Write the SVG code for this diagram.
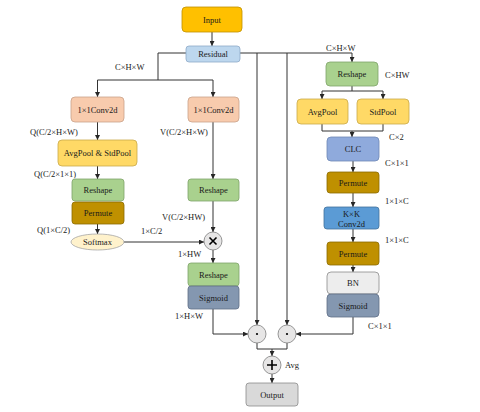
<svg xmlns="http://www.w3.org/2000/svg" width="480" height="412" viewBox="0 0 480 412">
<defs>
<marker id="ah" viewBox="0 0 6 6" refX="6" refY="3" markerWidth="5" markerHeight="5" orient="auto" markerUnits="userSpaceOnUse">
<path d="M0,0 L6,3 L0,6 Z" fill="#262626"/>
</marker>
<style>
.b{stroke-width:0.8}
text{font-family:"Liberation Serif","Times New Roman",serif;font-size:8.5px;fill:#1a1a1a}
.c{text-anchor:middle;dominant-baseline:central}
.l{dominant-baseline:central}
.e{fill:none;stroke:#333;stroke-width:1}
.a{marker-end:url(#ah)}
.op{fill:#E7E6E6;stroke:#7f7f7f;stroke-width:0.8}
</style>
</defs>
<rect width="480" height="412" fill="#fff"/>

<g id="edges">
<path class="e a" d="M212,32 V46"/>
<path class="e" d="M186,53 H158 V80 M97.5,80 H213"/>
<path class="e a" d="M97.5,80 V97"/>
<path class="e a" d="M213,80 V97"/>
<path class="e" d="M240,53 H352"/>
<path class="e a" d="M352,53 V62"/>
<path class="e a" d="M257,53 V325"/>
<path class="e a" d="M287,53 V325"/>
<path class="e a" d="M97.5,122 V140"/>
<path class="e a" d="M97.5,166 V179"/>
<path class="e a" d="M97.5,224 V234"/>
<path class="e a" d="M124,242 H204"/>
<path class="e a" d="M213,122 V179"/>
<path class="e a" d="M213,201 V232"/>
<path class="e a" d="M213,250 V263"/>
<path class="e a" d="M213,309 V334 H248"/>
<path class="e a" d="M353,317 V334 H296"/>
<path class="e" d="M257,343 V349 H287 V343"/>
<path class="e a" d="M272,349 V356"/>
<path class="e a" d="M272,374 V383"/>
<path class="e" d="M352,86 V91 M322,91 H383"/>
<path class="e a" d="M322,91 V99"/>
<path class="e a" d="M383,91 V99"/>
<path class="e" d="M322,124 V131 H383 V124"/>
<path class="e a" d="M352,131 V137"/>
<path class="e a" d="M353,161 V172"/>
<path class="e a" d="M353,193 V207"/>
<path class="e a" d="M353,229 V242"/>
<path class="e a" d="M353,265 V272"/>
</g>

<g id="input"><rect x="182" y="7" width="60" height="25" rx="4" fill="#FFC000" stroke="#BF9000" class="b"/><text class="c" x="212" y="19.5">Input</text></g>
<g id="residual"><rect x="186" y="46" width="54" height="16" rx="3" fill="#BDD7EE" stroke="#8EA9C8" class="b"/><text class="c" x="213" y="54">Residual</text></g>

<g id="conv-q"><rect x="71" y="97" width="53" height="25" rx="4" fill="#F8CBAD" stroke="#C9A28A" class="b"/><text class="c" x="97.5" y="109.5">1×1Conv2d</text></g>
<g id="conv-v"><rect x="188" y="97" width="51" height="25" rx="4" fill="#F8CBAD" stroke="#C9A28A" class="b"/><text class="c" x="213.5" y="109.5">1×1Conv2d</text></g>
<g id="avgstd"><rect x="58" y="140" width="79" height="26" rx="4" fill="#FFD966" stroke="#C9A94A" class="b"/><text class="c" x="97.5" y="153">AvgPool &amp; StdPool</text></g>
<g id="reshape-q"><rect x="72" y="179" width="52" height="22" rx="3" fill="#A9D18E" stroke="#7FA36A" class="b"/><text class="c" x="98" y="190">Reshape</text></g>
<g id="permute-q"><rect x="72" y="202" width="52" height="22" rx="3" fill="#BF9000" stroke="#8C6A00" class="b"/><text class="c" x="98" y="213">Permute</text></g>
<g id="softmax"><ellipse cx="97.5" cy="242" rx="26.5" ry="8" fill="#FFF2CC" stroke="#A6A6A6" class="b"/><text class="c" x="97.5" y="242">Softmax</text></g>
<g id="reshape-v"><rect x="188" y="179" width="51" height="22" rx="3" fill="#A9D18E" stroke="#7FA36A" class="b"/><text class="c" x="213.5" y="190">Reshape</text></g>
<g id="matmul"><circle cx="213" cy="241" r="9" class="op"/><path d="M209.5,237.5 L216.5,244.5 M216.5,237.5 L209.5,244.5" stroke="#000" stroke-width="1.6"/></g>
<g id="reshape-s"><rect x="188" y="263" width="51" height="23" rx="3" fill="#A9D18E" stroke="#7FA36A" class="b"/><text class="c" x="213.5" y="274.5">Reshape</text></g>
<g id="sigmoid-s"><rect x="188" y="286" width="51" height="23" rx="3" fill="#8497B0" stroke="#5F6F86" class="b"/><text class="c" x="213.5" y="297.5">Sigmoid</text></g>

<g id="reshape-c"><rect x="326" y="62" width="52" height="24" rx="4" fill="#A9D18E" stroke="#7FA36A" class="b"/><text class="c" x="352" y="74">Reshape</text></g>
<g id="avgpool"><rect x="297" y="99" width="51" height="25" rx="4" fill="#FFD966" stroke="#C9A94A" class="b"/><text class="c" x="322.5" y="111.5">AvgPool</text></g>
<g id="stdpool"><rect x="357" y="99" width="52" height="25" rx="4" fill="#FFD966" stroke="#C9A94A" class="b"/><text class="c" x="383" y="111.5">StdPool</text></g>
<g id="clc"><rect x="327" y="137" width="52" height="24" rx="4" fill="#8FAADC" stroke="#6F88B5" class="b"/><text class="c" x="353" y="149">CLC</text></g>
<g id="permute-c1"><rect x="327" y="172" width="52" height="21" rx="3" fill="#BF9000" stroke="#8C6A00" class="b"/><text class="c" x="353" y="182.5">Permute</text></g>
<g id="kxk"><rect x="324" y="207" width="55" height="22" rx="3" fill="#5B9BD5" stroke="#41719C" class="b"/><text class="c" x="351.5" y="213.5">K×K</text><text class="c" x="351.5" y="223.5">Conv2d</text></g>
<g id="permute-c2"><rect x="327" y="242" width="52" height="23" rx="3" fill="#BF9000" stroke="#8C6A00" class="b"/><text class="c" x="353" y="253.5">Permute</text></g>
<g id="bn"><rect x="327" y="272" width="52" height="22" rx="4" fill="#EDEDED" stroke="#8C8C8C" class="b"/><text class="c" x="353" y="283">BN</text></g>
<g id="sigmoid-c"><rect x="327" y="294" width="52" height="23" rx="4" fill="#8497B0" stroke="#5F6F86" class="b"/><text class="c" x="353" y="305.5">Sigmoid</text></g>

<g id="mul1"><circle cx="257" cy="334" r="9" class="op"/><circle cx="257" cy="334" r="1.1" fill="#000"/></g>
<g id="mul2"><circle cx="287" cy="334" r="9" class="op"/><circle cx="287" cy="334" r="1.1" fill="#000"/></g>
<g id="add"><circle cx="272" cy="365" r="9" class="op"/><path d="M267,365 H277 M272,360 V370" stroke="#000" stroke-width="1.6"/></g>
<g id="output"><rect x="246" y="383" width="52" height="23" rx="3" fill="#D9D9D9" stroke="#8C8C8C" class="b"/><text class="c" x="272" y="394.5">Output</text></g>

<g id="labels">
<text class="l" x="115" y="67">C×H×W</text>
<text class="l" x="326" y="47.5">C×H×W</text>
<text class="l" x="385" y="75">C×HW</text>
<text class="l" x="30" y="132">Q(C/2×H×W)</text>
<text class="l" x="160" y="132">V(C/2×H×W)</text>
<text class="l" x="34" y="174">Q(C/2×1×1)</text>
<text class="l" x="37" y="230">Q(1×C/2)</text>
<text class="l" x="141" y="231">1×C/2</text>
<text class="l" x="162" y="217">V(C/2×HW)</text>
<text class="l" x="178" y="254">1×HW</text>
<text class="l" x="175" y="316">1×H×W</text>
<text class="l" x="389" y="137">C×2</text>
<text class="l" x="385" y="163">C×1×1</text>
<text class="l" x="385" y="201">1×1×C</text>
<text class="l" x="385" y="240">1×1×C</text>
<text class="l" x="368" y="326">C×1×1</text>
<text class="l" x="285" y="365">Avg</text>
</g>
</svg>
